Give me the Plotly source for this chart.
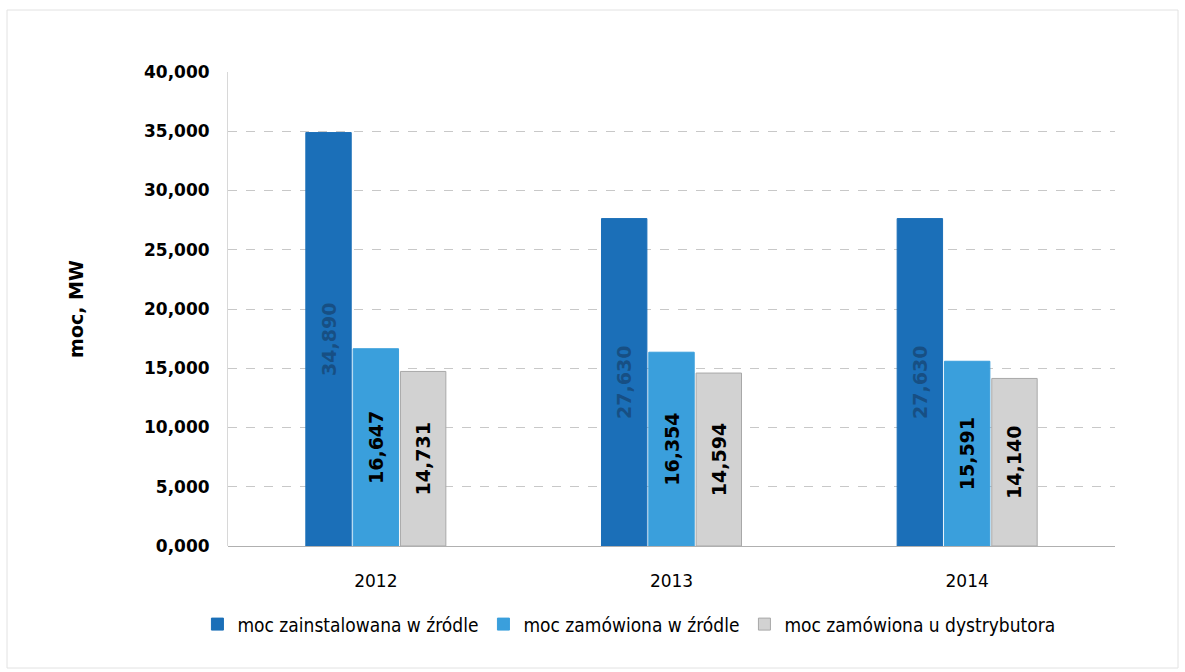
import plotly.graph_objects as go

years = ["2012", "2013", "2014"]
installed = [34.890, 27.630, 27.630]
ordered_source = [16.647, 16.354, 15.591]
ordered_distrib = [14.731, 14.594, 14.140]
names = ["moc zainstalowana w źródle", "moc zamówiona w źródle", "moc zamówiona u dystrybutora"]
y_ticks = [0, 5, 10, 15, 20, 25, 30, 35, 40]

colors = ["#1b6fb8", "#3a9fdc", "#d2d2d2"]
line_colors = ["#1b6fb8", "#3a9fdc", "#a8a8a8"]
text_colors = ["#174f84", "#000000", "#000000"]
series = [installed, ordered_source, ordered_distrib]

fig = go.Figure()
for vals, nm, c, lc, tc in zip(series, names, colors, line_colors, text_colors):
    fig.add_trace(go.Bar(
        x=years, y=vals, name=nm,
        marker=dict(color=c, line=dict(color=lc, width=1)),
        texttemplate="%{y:,.3f}",
        textposition="inside", insidetextanchor="middle", textangle=-90,
        textfont=dict(family="DejaVu Sans", size=19, color=tc, weight="bold"),
    ))

fig.update_layout(
    width=1185, height=672,
    separators=",.",
    barmode="group", bargap=0.52, bargroupgap=0.04,
    paper_bgcolor="white", plot_bgcolor="white",
    margin=dict(l=228, r=70, t=72, b=126),
    font=dict(family="DejaVu Sans", color="#000000"),
    showlegend=True,
    legend=dict(orientation="h", x=0.452, xanchor="center", y=-0.125, yanchor="top",
                font=dict(family="DejaVu Sans Condensed", size=19, color="#000"),
                itemwidth=30, traceorder="normal"),
    uniformtext=dict(minsize=8, mode="show"),
)
fig.update_yaxes(
    range=[0, 40], tickvals=y_ticks, tickformat=".3f",
    tickfont=dict(family="DejaVu Sans", size=17, color="#000", weight="bold"),
    ticks="outside", ticklen=14, tickcolor="rgba(0,0,0,0)",
    showgrid=True, gridcolor="#c8c8c8", griddash="dash", gridwidth=1,
    zeroline=True, zerolinecolor="#b0b0b0", zerolinewidth=1,
    showline=True, linecolor="#d8d8d8",
    title=dict(text="moc, MW", standoff=55,
               font=dict(family="DejaVu Sans", size=19, color="#000", weight="bold")),
)
fig.update_xaxes(
    tickfont=dict(family="DejaVu Sans", size=17, color="#000"),
    ticks="outside", ticklen=20, tickcolor="rgba(0,0,0,0)",
    showline=False,
)
fig.add_shape(type="rect", xref="paper", yref="paper",
              x0=(7 - 228) / 887, x1=(1178 - 228) / 887,
              y0=(546 - 668) / 474, y1=(546 - 10) / 474,
              line=dict(color="#e2e2e2", width=1))
fig.write_html("out.html")
